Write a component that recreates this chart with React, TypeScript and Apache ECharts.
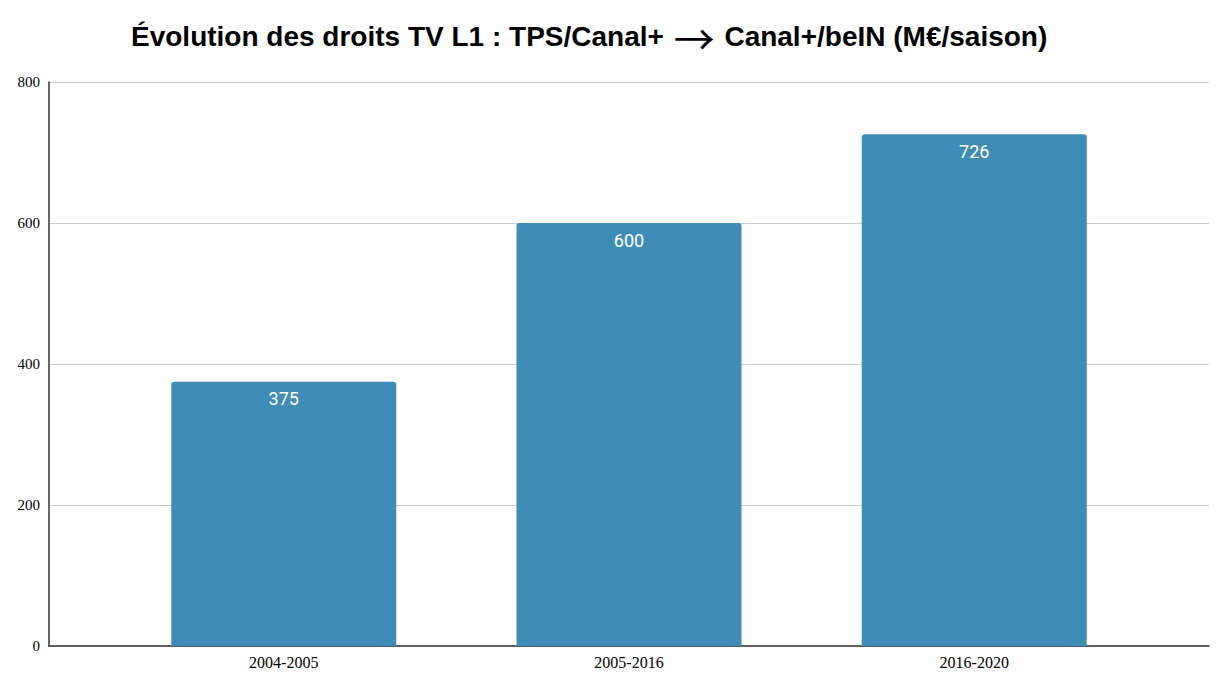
import React, { useEffect, useRef } from "react";
import * as echarts from "echarts";

const categories = ["2004-2005", "2005-2016", "2016-2020"];
const values = [375, 600, 726];
const yTicks = [0, 200, 400, 600, 800];
const titleBefore = "Évolution des droits TV L1 : TPS/Canal+ ";
const titleArrow = "→";
const titleAfter = " Canal+/beIN (M€/saison)";

export default function App() {
  const ref = useRef<HTMLDivElement>(null);
  useEffect(() => {
    const chart = echarts.init(ref.current!, null, { renderer: "svg" });
    const idx = categories.map((_, i) => i);
    chart.setOption({
      animation: false,
      backgroundColor: "#ffffff",
      title: {
        text: `${titleBefore}{arr|${titleArrow}}${titleAfter}`,
        left: 126,
        top: 11,
        textStyle: {
          fontFamily: "Liberation Sans, Arial, Helvetica, sans-serif",
          fontSize: 28,
          fontWeight: "bold",
          color: "#000",
          rich: {
            arr: {
              fontFamily: "Noto Sans CJK JP, DejaVu Sans, sans-serif",
              fontSize: 41,
              fontWeight: "normal",
              color: "#000",
              padding: [0, 2, 0, 2],
            },
          },
        },
      },
      grid: { left: 49, right: 23, top: 82, bottom: 52, containLabel: false },
      xAxis: {
        type: "value",
        min: -0.68,
        max: 2.68,
        splitLine: { show: false },
        axisLine: { show: true, onZero: false, lineStyle: { color: "#333", width: 1.5 } },
        axisTick: { show: false },
        axisLabel: {
          customValues: idx,
          formatter: (v: number) => categories[Math.round(v)] ?? "",
          fontFamily: "Liberation Serif, Times New Roman, serif",
          fontSize: 16,
          color: "#000",
          margin: 8,
        },
      },
      yAxis: {
        type: "value",
        min: yTicks[0],
        max: yTicks[yTicks.length - 1],
        interval: 200,
        axisLine: { show: true, onZero: false, lineStyle: { color: "#333", width: 1.5 } },
        axisTick: { show: false },
        splitLine: { lineStyle: { color: "#cccccc", width: 1 } },
        axisLabel: {
          fontFamily: "Liberation Serif, Times New Roman, serif",
          fontSize: 15,
          color: "#000",
          margin: 9,
        },
      },
      series: [
        {
          type: "bar",
          data: values.map((v, i) => [i, v]),
          barWidth: 225,
          itemStyle: { color: "#3f8db7", borderRadius: [3, 3, 0, 0] },
          label: {
            show: true,
            position: "insideTop",
            distance: 8,
            color: "#ffffff",
            fontFamily: "Roboto, Noto Sans, sans-serif",
            fontSize: 18,
            formatter: (p: any) => String(p.value[1]),
          },
        },
      ],
    });
    return () => chart.dispose();
  }, []);
  return (
    <div
      ref={ref}
      style={{ position: "fixed", left: 0, top: 0, width: 1232, height: 698, background: "#fff" }}
    />
  );
}
